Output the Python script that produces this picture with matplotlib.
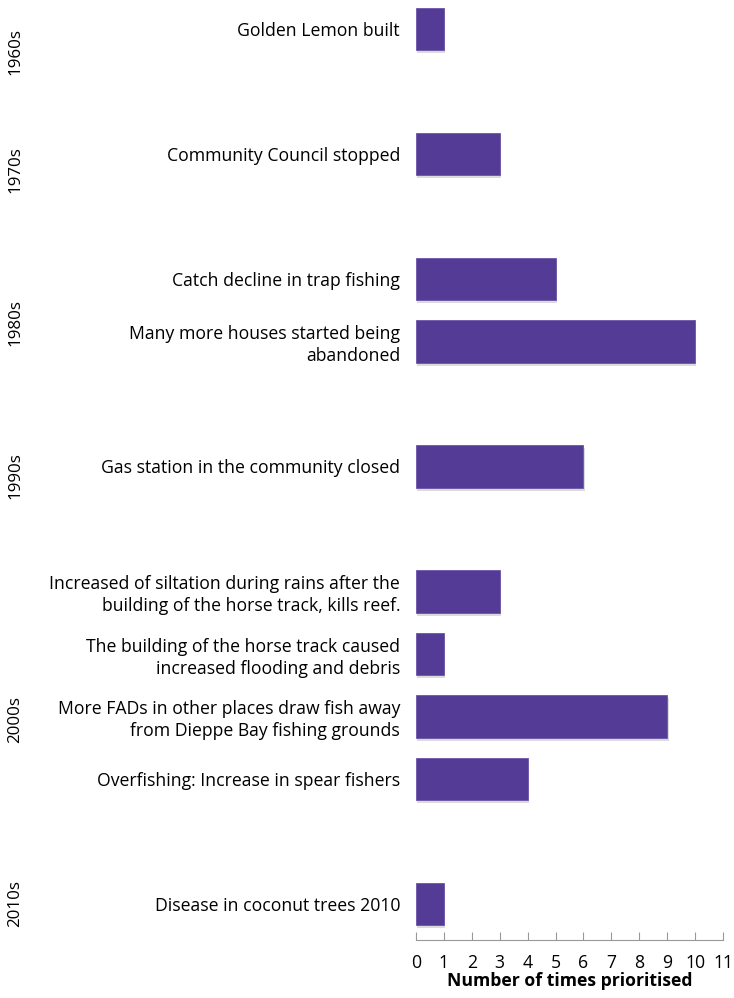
import numpy as np
import matplotlib
matplotlib.use('Agg')
import matplotlib.pyplot as plt
import matplotlib.patheffects as pe
from matplotlib.transforms import blended_transform_factory

# categories (blank slots separate the decades)
labels = ["Golden Lemon built", "",
          "Community Council stopped", "",
          "Catch decline in trap fishing",
          "Many more houses started being\nabandoned", "",
          "Gas station in the community closed", "",
          "Increased of siltation during rains after the\nbuilding of the horse track, kills reef.",
          "The building of the horse track caused\nincreased flooding and debris",
          "More FADs in other places draw fish away\nfrom Dieppe Bay fishing grounds",
          "Overfishing: Increase in spear fishers", "",
          "Disease in coconut trees 2010"]
values = [1, None, 3, None, 5, 10, None, 6, None, 3, 1, 9, 4, None, 1]

decades = ["1960s", "1970s", "1980s", "1990s", "2000s", "2010s"]
decade_pos = [0.37, 2.25, 4.7, 7.15, 11.05, 14.0]

plt.rcParams['font.family'] = ['Open Sans', 'DejaVu Sans']
fs = 12.7

fig = plt.figure(figsize=(7.34, 9.98), dpi=100)
ax = fig.add_axes([416 / 734, 1 - 940 / 998, (723 - 416) / 734, 940 / 998])

pos = np.arange(len(labels))
idx = [i for i, v in enumerate(values) if v is not None]
bars = ax.barh([pos[i] for i in idx], [values[i] for i in idx], height=0.68,
               color='#543C96', edgecolor='#6a55a8', linewidth=0.6)
for b in bars:
    b.set_path_effects([pe.SimplePatchShadow(offset=(1, -2.5), shadow_rgbFace='#888888', alpha=0.3),
                        pe.Normal()])

ax.set_ylim(14.58, -0.46)
ax.set_xlim(0, 11)
ax.set_xticks(range(12))
ax.set_yticks(pos)
ax.set_yticklabels(labels, fontsize=fs, linespacing=1.3)
ax.tick_params(axis='y', length=0, pad=11.5)
ax.tick_params(axis='x', direction='in', length=6, color='#999999', labelsize=fs, pad=10)
for s in ['top', 'right', 'left']:
    ax.spines[s].set_visible(False)
ax.spines['bottom'].set_color('#999999')
ax.set_xlabel('Number of times prioritised', fontsize=fs, fontweight='bold', labelpad=0)

tr = blended_transform_factory(fig.transFigure, ax.transData)
for d, p in zip(decades, decade_pos):
    ax.text(15 / 734, p, d, transform=tr, rotation=90, ha='center', va='center', fontsize=12.2)

fig.savefig('out.png', dpi=100)
